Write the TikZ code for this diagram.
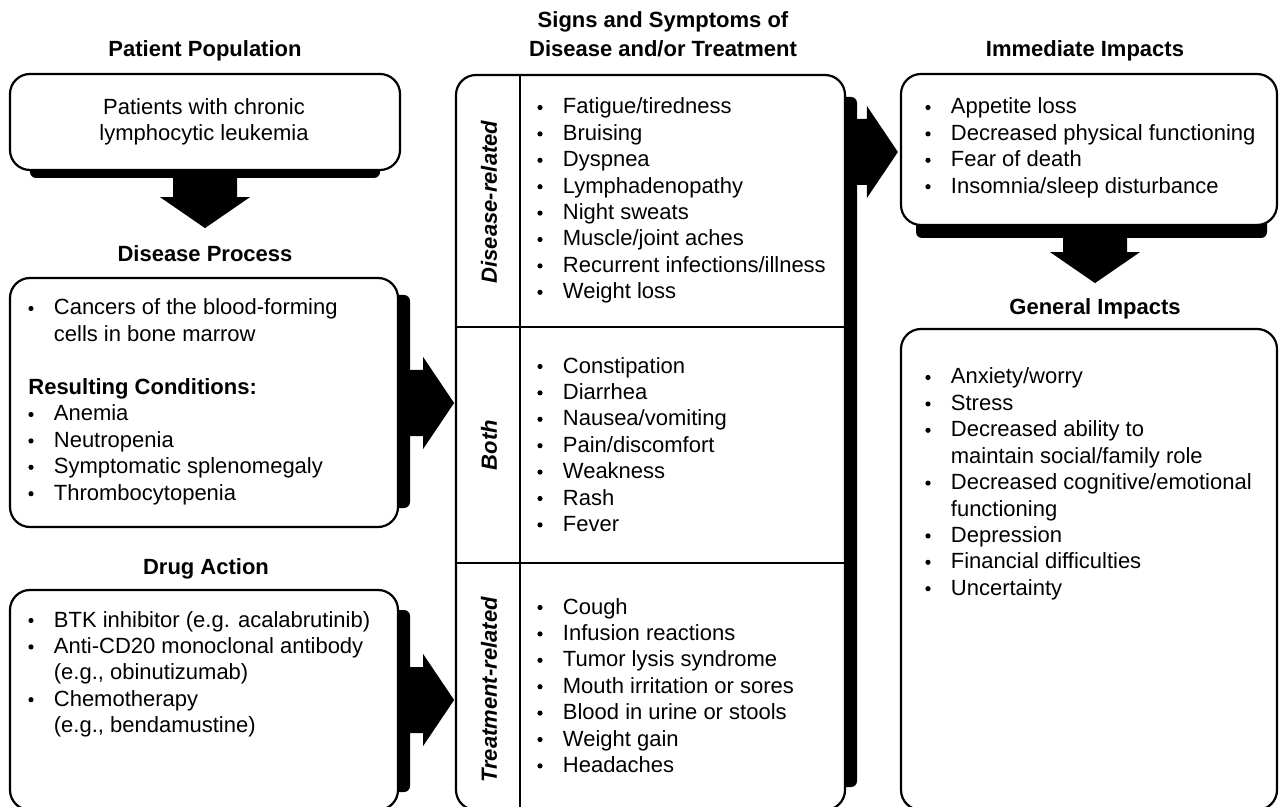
\documentclass[tikz,border=0pt]{standalone}
\usepackage{fontspec}
\setmainfont{Liberation Sans}
\usetikzlibrary{calc}
\tikzset{
  box/.style={draw, line width=1.1pt, rounded corners=10pt, fill=white, inner sep=0pt},
  divider/.style={line width=1.1pt},
  shadowbar/.style={fill=black, rounded corners=3pt},
  blockarrow/.style={fill=black},
  txt/.style={anchor=base west, inner sep=0pt, font=\fontsize{11}{13}\selectfont},
  ctxt/.style={anchor=base, inner sep=0pt, font=\fontsize{11}{13}\selectfont},
  head/.style={anchor=base, inner sep=0pt, font=\fontsize{11}{13}\selectfont\bfseries},
  sidelabel/.style={rotate=90, inner sep=0pt, font=\fontsize{11}{13}\selectfont\bfseries\itshape},
  dot/.style={circle, fill=black, inner sep=0pt, minimum size=2.6pt},
}
% #1 name prefix, #2 bullet x, #3 first baseline y, #4 list of flag/text
\newcommand\blist[4]{%
  \foreach \isb/\lin [count=\ii from 0] in {#4}{%
    \ifnum\isb=1 \node[dot] (#1d\ii) at (#2, #3+\ii*26.4-6.5) {};\fi
    \node[txt] (#1\ii) at (#2+22.5, #3+\ii*26.4) {\lin};
  }}
% block arrows: #1 tip coordinate, #2 shaft length
\newcommand\downarr[2]{\fill[blockarrow] (#1) -- ++(45,-31) -- ++(-13,0) -- ++(0,-#2) -- ++(-64,0) -- ++(0,#2) -- ++(-13,0) -- cycle;}
\newcommand\rightarr[2]{\fill[blockarrow] (#1) -- ++(-31,-46) -- ++(0,13) -- ++(-#2,0) -- ++(0,66) -- ++(#2,0) -- ++(0,13) -- cycle;}
\begin{document}
\begin{tikzpicture}[x=0.5pt,y=-0.5pt]
\useasboundingbox (0,0) rectangle (1279,807);
\clip (0,0) rectangle (1279,807);

% headings
\node[head] (h1) at (205,57) {Patient Population};
\node[head] (h2a) at (663,28) {Signs and Symptoms of};
\node[head] (h2b) at (663,57) {Disease and/or Treatment};
\node[head] (h3) at (1085,57) {Immediate Impacts};
\node[head] (h4) at (205,262) {Disease Process};
\node[head] (h5) at (206,574) {Drug Action};
\node[head] (h6) at (1095,315) {General Impacts};

% shadows
\fill[shadowbar] (30,150) rectangle (380,178);
\fill[shadowbar] (380,295) rectangle (410,508);
\fill[shadowbar] (380,610) rectangle (410,792);
\fill[shadowbar] (830,97) rectangle (857,787);
\fill[shadowbar] (916,200) rectangle (1267,238);

% boxes
\node[box, minimum width=195pt, minimum height=48pt] (pp) at (205,122) {};
\node[box, minimum width=194pt, minimum height=124.5pt] (dp) at (204,402.5) {};
\node[box, minimum width=194pt, minimum height=110pt] (da) at (204,700) {};
\node[box, minimum width=194.5pt, minimum height=367.5pt] (ss) at (650.5,442.5) {};
\node[box, minimum width=188pt, minimum height=75.5pt] (ii) at (1089,149.5) {};
\node[box, minimum width=188pt, minimum height=240.5pt] (gi) at (1089,569.5) {};

% arrows
\coordinate (t1) at ($(pp.south)+(0,57)$);
\coordinate (t2) at ($(dp.east)+(55,0.5)$);
\coordinate (t3) at ($(da.east)+(55,0)$);
\coordinate (t4) at ($(ii.west)+(-2,2.5)$);
\coordinate (t5) at ($(ii.south)+(6,57)$);
\downarr{t1}{22}
\rightarr{t2}{18}
\rightarr{t3}{18}
\rightarr{t4}{17}
\downarr{t5}{22}

% middle box dividers
\coordinate (dx) at ($(ss.west)+(65,0)$);
\coordinate (y1) at (0,327);
\coordinate (y2) at (0,563);
\draw[divider] (dx |- ss.north) -- (dx |- ss.south);
\draw[divider] (ss.west |- y1) -- (ss.east |- y1);
\draw[divider] (ss.west |- y2) -- (ss.east |- y2);

% side labels
\node[sidelabel] (l1) at (489,202) {Disease-related};
\node[sidelabel] (l2) at (489,445) {Both};
\node[sidelabel] (l3) at (489,690) {Treatment-related};

% texts
\node[ctxt] (pp1) at (204,115) {Patients with chronic};
\node[ctxt] (pp2) at (204,141) {lymphocytic leukemia};

\blist{dpa}{31}{315}{1/{Cancers of the blood-forming}, 0/{cells in bone marrow}}
\node[txt, font=\fontsize{11}{13}\selectfont\bfseries] (rc) at (28,394) {Resulting Conditions:};
\blist{dpb}{31}{421}{1/Anemia, 1/Neutropenia, 1/{Symptomatic splenomegaly}, 1/Thrombocytopenia}

\blist{dac}{31}{627}{1/{BTK inhibitor (e.g. acalabrutinib)}, 1/{Anti-CD20 monoclonal antibody}, 0/{(e.g., obinutizumab)}, 1/Chemotherapy, 0/{(e.g., bendamustine)}}

\blist{sd}{540}{114}{1/{Fatigue/tiredness}, 1/Bruising, 1/Dyspnea, 1/Lymphadenopathy, 1/{Night sweats}, 1/{Muscle/joint aches}, 1/{Recurrent infections/illness}, 1/{Weight loss}}
\blist{sb}{540}{373}{1/Constipation, 1/Diarrhea, 1/{Nausea/vomiting}, 1/{Pain/discomfort}, 1/Weakness, 1/Rash, 1/Fever}
\blist{st}{540}{614}{1/Cough, 1/{Infusion reactions}, 1/{Tumor lysis syndrome}, 1/{Mouth irritation or sores}, 1/{Blood in urine or stools}, 1/{Weight gain}, 1/Headaches}

\blist{im}{928}{114}{1/{Appetite loss}, 1/{Decreased physical functioning}, 1/{Fear of death}, 1/{Insomnia/sleep disturbance}}
\blist{ge}{928}{384}{1/{Anxiety/worry}, 1/Stress, 1/{Decreased ability to}, 0/{maintain social/family role}, 1/{Decreased cognitive/emotional}, 0/functioning, 1/Depression, 1/{Financial difficulties}, 1/Uncertainty}
\end{tikzpicture}
\end{document}
